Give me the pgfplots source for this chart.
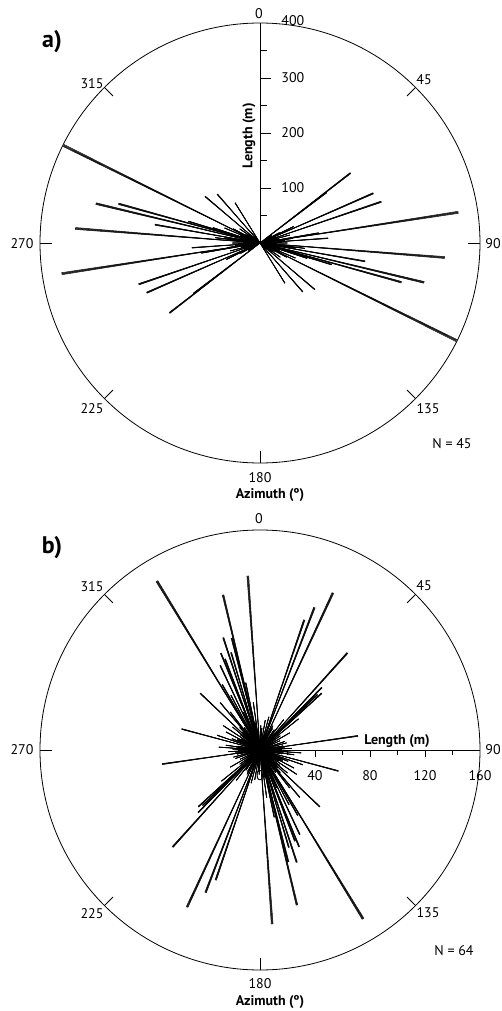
\documentclass[border=0pt]{standalone}
\usepackage{pgfplots}
\pgfplotsset{compat=1.18}
\usepackage{pgfplotstable}
\usepgfplotslibrary{polar}
\usepackage{fontspec}
\setmainfont{PT Sans}

% azimuth (deg, 0-180) and length (m); each feature is drawn both ways
\pgfplotstableread{
az len
52.3 208
52.8 152
66.3 225
71.2 233
81.2 365
63.9 68
80.3 108
86.0 124
75.0 56
96.8 82
94.5 337
99.9 194
106.8 136
105.5 267
103.5 307
116.4 399
148.2 86
138.8 118
130.3 131
117.0 48
88 40
92 30
95 55
84 45
78 35
70 28
62 40
58 25
100 45
104 60
110 38
113 70
120 30
125 45
98 65
90 50
86 75
82 60
108 90
102 28
74 20
66 22
95 20
118 55
140 25
}\dataA

\pgfplotstableread{
az len
24.9 126
20.9 111
18.8 100
42.0 95
44.7 64
47.4 61
46.0 58
51.0 36
81.8 72
71.0 19
87.0 23
176.0 127
148.6 144
166.6 116
161.9 86
158.0 76
159.0 71
154.8 68
133.5 60
105.0 59
109.0 33
123.6 32
149.0 28
165.8 84
163.5 74
45.5 40
28 20
10 22
35 18
55 18
60 25
65 16
75 20
92 20
95 17
98 25
100 16
112 22
115 18
118 28
128 18
138 22
142 35
145 20
152 45
156 30
162 40
168 50
170 20
172 35
150 55
140 45
130 26
94 30
88 16
2 18
5 16
15 25
30 18
38 28
80 17
120 16
135 18
85 18
}\dataB

\newcommand\ray[3]{\addplot[polar comb, black, line width=#3] table[x expr={#2}, y=len]{#1};}
\newcommand\rose[1]{%
  \ray{#1}{mod(450-\thisrow{az},360)}{0.4pt}
  \ray{#1}{mod(450-\thisrow{az},360)+0.15}{0.4pt}
  \ray{#1}{mod(450-\thisrow{az},360)-0.15}{0.4pt}
  \ray{#1}{mod(450-\thisrow{az},360)+0.3}{0.35pt}
  \ray{#1}{mod(450-\thisrow{az},360)-0.3}{0.35pt}
  \ray{#1}{270-\thisrow{az}}{0.4pt}
  \ray{#1}{270-\thisrow{az}+0.15}{0.4pt}
  \ray{#1}{270-\thisrow{az}-0.15}{0.4pt}
  \ray{#1}{270-\thisrow{az}+0.3}{0.35pt}
  \ray{#1}{270-\thisrow{az}-0.3}{0.35pt}
}

\pgfplotsset{rosestyle/.style={
  width=330pt, height=330pt, scale only axis,
  anchor=south west,
  xmin=0, xmax=360, ymin=0,
  x axis line style={line width=0.6pt},
  y axis line style={draw=none},
  xtick=\empty, ytick=\empty,
  grid=none,
  clip=false,
}}

\begin{document}
\begin{tikzpicture}[x=0.75pt,y=0.75pt,font=\fontsize{10.5}{12}\selectfont]
\path[use as bounding box] (0,0) rectangle (501,1011);

% ---------- panel a ---------- (centre 195pt,576pt)
\begin{polaraxis}[rosestyle, at={(30pt,411pt)}, ymax=400]
  \pgfplotsinvokeforeach{45,0,315,270,225,180,135}{
    \draw[line width=0.6pt] (axis cs:#1,400) -- (axis cs:#1,378);
  }
  \draw[line width=0.6pt] (axis cs:90,0) -- (axis cs:90,400);
  \pgfplotsinvokeforeach{100,200,300}{
    \draw[line width=0.6pt] (axis cs:90,#1) -- ++(8.5pt,0);
    \node[anchor=west] at ([xshift=12.5pt]axis cs:90,#1) {#1};
  }
  \pgfplotsinvokeforeach{50,150,250,350}{
    \draw[line width=0.6pt] (axis cs:90,#1) -- ++(5pt,0);
  }
  \node[anchor=west] at ([xshift=12.5pt,yshift=2pt]axis cs:90,400) {400};
  \rose{\dataA}
\end{polaraxis}
\node[rotate=90, font=\bfseries\fontsize{10.5}{12}\selectfont] at (249,875) {Length (m)};
\node at (259,997) {0};
\node at (424,931) {45};
\node at (493,767) {90};
\node at (428,602) {135};
\node at (260,533) {180};
\node at (92,602) {225};
\node at (22,767) {270};
\node at (92,927) {315};
\node[font=\bfseries\fontsize{18}{20}\selectfont] at (52,969) {a)};
\node at (452,567) {N = 45};
\node[font=\bfseries\fontsize{10.5}{12}\selectfont] at (270,516) {Azimuth (º)};

% ---------- panel b ---------- (centre 195pt,195.75pt)
\begin{polaraxis}[rosestyle, at={(30pt,30.75pt)}, ymax=160]
  \pgfplotsinvokeforeach{45,315,270,225,180,135}{
    \draw[line width=0.6pt] (axis cs:#1,160) -- (axis cs:#1,151.3);
  }
  \draw[line width=0.6pt] (axis cs:0,0) -- (axis cs:0,160);
  \pgfplotsinvokeforeach{40,80,120}{
    \draw[line width=0.6pt] (axis cs:0,#1) -- ++(0,-5.5pt);
  }
  \pgfplotsinvokeforeach{20,60,100,140}{
    \draw[line width=0.6pt] (axis cs:0,#1) -- ++(0,-3.5pt);
  }
  \pgfplotsinvokeforeach{0,40,80,120,160}{
    \node at ([yshift=-19.5pt]axis cs:0,#1) {#1};
  }
  \rose{\dataB}
\end{polaraxis}
\node[font=\bfseries\fontsize{10.5}{12}\selectfont] at (397,270) {Length (m)};
\node at (259,492) {0};
\node at (424,425) {45};
\node at (493,261) {90};
\node at (428,98) {135};
\node at (260,27) {180};
\node at (92,97) {225};
\node at (22,261) {270};
\node at (92,424) {315};
\node[font=\bfseries\fontsize{18}{20}\selectfont] at (52,463) {b)};
\node at (454,60) {N = 64};
\node[font=\bfseries\fontsize{10.5}{12}\selectfont] at (270,9) {Azimuth (º)};
\end{tikzpicture}
\end{document}
